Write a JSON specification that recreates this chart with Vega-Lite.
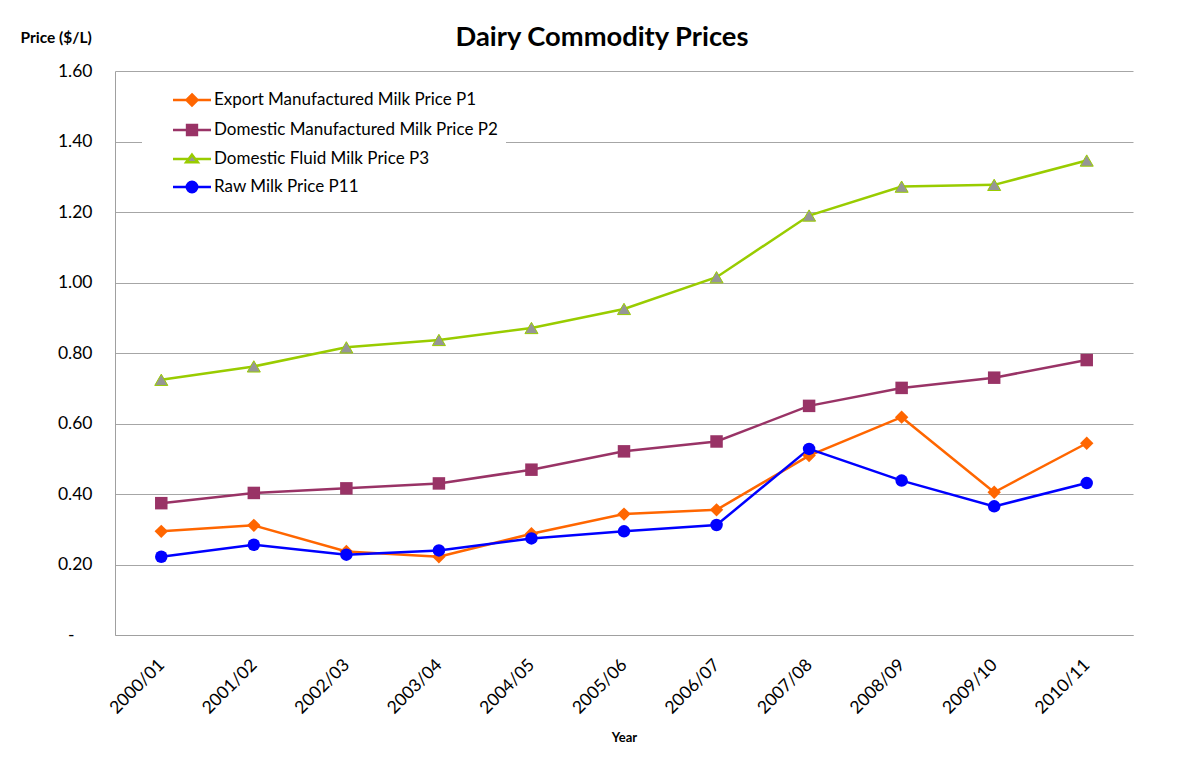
{
  "$schema": "https://vega.github.io/schema/vega-lite/v6.json",
  "width": 1018,
  "height": 564,
  "autosize": {"type": "none"},
  "padding": {"left": 115, "top": 71, "right": 69, "bottom": 125},
  "background": "white",
  "title": {"text": "Dairy Commodity Prices", "font": "Lato", "fontSize": 27.3, "fontWeight": "bold", "color": "#000000", "anchor": "middle", "frame": "group", "dx": -22, "dy": 41, "offset": 20},
  "data": {"values": [
    {"Year": "2000/01", "Series": "Export Manufactured Milk Price P1", "Price": 0.294},
    {"Year": "2001/02", "Series": "Export Manufactured Milk Price P1", "Price": 0.311},
    {"Year": "2002/03", "Series": "Export Manufactured Milk Price P1", "Price": 0.237},
    {"Year": "2003/04", "Series": "Export Manufactured Milk Price P1", "Price": 0.222},
    {"Year": "2004/05", "Series": "Export Manufactured Milk Price P1", "Price": 0.287},
    {"Year": "2005/06", "Series": "Export Manufactured Milk Price P1", "Price": 0.343},
    {"Year": "2006/07", "Series": "Export Manufactured Milk Price P1", "Price": 0.355},
    {"Year": "2007/08", "Series": "Export Manufactured Milk Price P1", "Price": 0.509},
    {"Year": "2008/09", "Series": "Export Manufactured Milk Price P1", "Price": 0.618},
    {"Year": "2009/10", "Series": "Export Manufactured Milk Price P1", "Price": 0.405},
    {"Year": "2010/11", "Series": "Export Manufactured Milk Price P1", "Price": 0.544},
    {"Year": "2000/01", "Series": "Domestic Manufactured Milk Price P2", "Price": 0.374},
    {"Year": "2001/02", "Series": "Domestic Manufactured Milk Price P2", "Price": 0.403},
    {"Year": "2002/03", "Series": "Domestic Manufactured Milk Price P2", "Price": 0.416},
    {"Year": "2003/04", "Series": "Domestic Manufactured Milk Price P2", "Price": 0.430},
    {"Year": "2004/05", "Series": "Domestic Manufactured Milk Price P2", "Price": 0.469},
    {"Year": "2005/06", "Series": "Domestic Manufactured Milk Price P2", "Price": 0.521},
    {"Year": "2006/07", "Series": "Domestic Manufactured Milk Price P2", "Price": 0.549},
    {"Year": "2007/08", "Series": "Domestic Manufactured Milk Price P2", "Price": 0.650},
    {"Year": "2008/09", "Series": "Domestic Manufactured Milk Price P2", "Price": 0.701},
    {"Year": "2009/10", "Series": "Domestic Manufactured Milk Price P2", "Price": 0.730},
    {"Year": "2010/11", "Series": "Domestic Manufactured Milk Price P2", "Price": 0.780},
    {"Year": "2000/01", "Series": "Domestic Fluid Milk Price P3", "Price": 0.724},
    {"Year": "2001/02", "Series": "Domestic Fluid Milk Price P3", "Price": 0.762},
    {"Year": "2002/03", "Series": "Domestic Fluid Milk Price P3", "Price": 0.816},
    {"Year": "2003/04", "Series": "Domestic Fluid Milk Price P3", "Price": 0.837},
    {"Year": "2004/05", "Series": "Domestic Fluid Milk Price P3", "Price": 0.871},
    {"Year": "2005/06", "Series": "Domestic Fluid Milk Price P3", "Price": 0.925},
    {"Year": "2006/07", "Series": "Domestic Fluid Milk Price P3", "Price": 1.015},
    {"Year": "2007/08", "Series": "Domestic Fluid Milk Price P3", "Price": 1.190},
    {"Year": "2008/09", "Series": "Domestic Fluid Milk Price P3", "Price": 1.272},
    {"Year": "2009/10", "Series": "Domestic Fluid Milk Price P3", "Price": 1.277},
    {"Year": "2010/11", "Series": "Domestic Fluid Milk Price P3", "Price": 1.346},
    {"Year": "2000/01", "Series": "Raw Milk Price P11", "Price": 0.222},
    {"Year": "2001/02", "Series": "Raw Milk Price P11", "Price": 0.256},
    {"Year": "2002/03", "Series": "Raw Milk Price P11", "Price": 0.228},
    {"Year": "2003/04", "Series": "Raw Milk Price P11", "Price": 0.240},
    {"Year": "2004/05", "Series": "Raw Milk Price P11", "Price": 0.274},
    {"Year": "2005/06", "Series": "Raw Milk Price P11", "Price": 0.294},
    {"Year": "2006/07", "Series": "Raw Milk Price P11", "Price": 0.312},
    {"Year": "2007/08", "Series": "Raw Milk Price P11", "Price": 0.528},
    {"Year": "2008/09", "Series": "Raw Milk Price P11", "Price": 0.438},
    {"Year": "2009/10", "Series": "Raw Milk Price P11", "Price": 0.365},
    {"Year": "2010/11", "Series": "Raw Milk Price P11", "Price": 0.431}
  ]},
  "encoding": {
    "x": {
      "field": "Year", "type": "ordinal", "sort": null,
      "scale": {"type": "point", "padding": 0.5},
      "axis": {
        "title": "Year", "titleFont": "Lato", "titleFontSize": 13, "titleFontWeight": "bold", "titleColor": "#000000",
        "titleY": 102, "titleBaseline": "middle",
        "labelAngle": -45, "labelAlign": "right", "labelBaseline": "middle", "labelPadding": 27,
        "labelFont": "Lato", "labelFontSize": 17.5, "labelColor": "#000000",
        "ticks": false, "grid": false, "domainColor": "#a0a0a0", "domainWidth": 1
      }
    },
    "y": {
      "field": "Price", "type": "quantitative",
      "scale": {"domain": [0, 1.6], "nice": false, "zero": true},
      "axis": {
        "values": [0, 0.2, 0.4, 0.6, 0.8, 1.0, 1.2, 1.4, 1.6],
        "labelExpr": "datum.value == 0 ? '-' : format(datum.value, '.2f')",
        "labelPadding": {"condition": {"test": "datum.value == 0", "value": 41}, "value": 23},
        "title": "Price ($/L)", "titleAngle": 0, "titleAlign": "left", "titleBaseline": "middle",
        "titleX": -95, "titleY": -34, "titleFont": "Lato", "titleFontSize": 15.5, "titleFontWeight": "bold", "titleColor": "#000000",
        "labelFont": "Lato", "labelFontSize": 17.5, "labelColor": "#000000",
        "ticks": false, "grid": true, "gridColor": "#a6a6a6", "gridWidth": 1,
        "domainColor": "#a0a0a0", "domainWidth": 1
      }
    }
  },
  "layer": [
    {
      "mark": {"type": "line", "strokeWidth": 2.5},
      "encoding": {
        "stroke": {
          "field": "Series", "type": "nominal", "title": null,
          "scale": {"domain": ["Export Manufactured Milk Price P1", "Domestic Manufactured Milk Price P2", "Domestic Fluid Milk Price P3", "Raw Milk Price P11"],
                    "range": ["#FF6600", "#993366", "#99CC00", "#0000FF"]},
          "legend": {"orient": "none", "legendX": 27, "legendY": 5}
        }
      }
    },
    {
      "transform": [{"filter": "datum.Series === 'Export Manufactured Milk Price P1'"}],
      "mark": {"type": "point", "shape": "diamond", "filled": true, "size": 180, "color": "#FF6600", "opacity": 1}
    },
    {
      "transform": [{"filter": "datum.Series === 'Domestic Manufactured Milk Price P2'"}],
      "mark": {"type": "point", "shape": "square", "filled": true, "size": 156, "color": "#993366", "opacity": 1}
    },
    {
      "transform": [{"filter": "datum.Series === 'Domestic Fluid Milk Price P3'"}],
      "mark": {"type": "point", "shape": "triangle-up", "filled": true, "size": 170, "fill": "#969696", "stroke": "#99CC00", "strokeWidth": 1, "opacity": 1}
    },
    {
      "transform": [{"filter": "datum.Series === 'Raw Milk Price P11'"}],
      "mark": {"type": "point", "shape": "circle", "filled": true, "size": 156, "color": "#0000FF", "opacity": 1}
    },
    {
      "mark": {"type": "point", "filled": true, "clip": true, "strokeWidth": 2.5, "opacity": 1},
      "encoding": {
        "y": {"datum": -1},
        "shape": {
          "field": "Series", "type": "nominal", "title": null,
          "scale": {"domain": ["Export Manufactured Milk Price P1", "Domestic Manufactured Milk Price P2", "Domestic Fluid Milk Price P3", "Raw Milk Price P11"],
                    "range": [
                      "M-1.31,0H1.31M0,-0.38L0.38,0L0,0.38L-0.38,0Z",
                      "M-1.31,0H1.31M-0.34,-0.34H0.34V0.34H-0.34Z",
                      "M-1.31,0H-0.23M0.23,0H1.31M0,-0.3L0.4,0.22H-0.4Z",
                      "M-1.31,0H1.31M0.36,0C0.36,0.199 0.199,0.36 0,0.36C-0.199,0.36 -0.36,0.199 -0.36,0C-0.36,-0.199 -0.199,-0.36 0,-0.36C0.199,-0.36 0.36,-0.199 0.36,0Z"
                    ]},
          "legend": {"orient": "none", "legendX": 27, "legendY": 4}
        },
        "fill": {
          "field": "Series", "type": "nominal", "title": null,
          "scale": {"domain": ["Export Manufactured Milk Price P1", "Domestic Manufactured Milk Price P2", "Domestic Fluid Milk Price P3", "Raw Milk Price P11"],
                    "range": ["#FF6600", "#993366", "#969696", "#0000FF"]},
          "legend": {"orient": "none", "legendX": 27, "legendY": 4}
        },
        "stroke": {
          "field": "Series", "type": "nominal", "title": null,
          "scale": {"domain": ["Export Manufactured Milk Price P1", "Domestic Manufactured Milk Price P2", "Domestic Fluid Milk Price P3", "Raw Milk Price P11"],
                    "range": ["#FF6600", "#993366", "#99CC00", "#0000FF"]},
          "legend": {"orient": "none", "legendX": 27, "legendY": 4}
        }
      }
    }
  ],
  "config": {
    "view": {"stroke": null},
    "legend": {
      "fillColor": "white", "padding": 8,
      "symbolSize": 841, "symbolStrokeWidth": 2.5, "symbolOffset": 26,
      "labelOffset": 6, "labelFont": "Lato", "labelFontSize": 17, "labelColor": "#000000", "labelLimit": 400,
      "rowPadding": 3
    }
  }
}
